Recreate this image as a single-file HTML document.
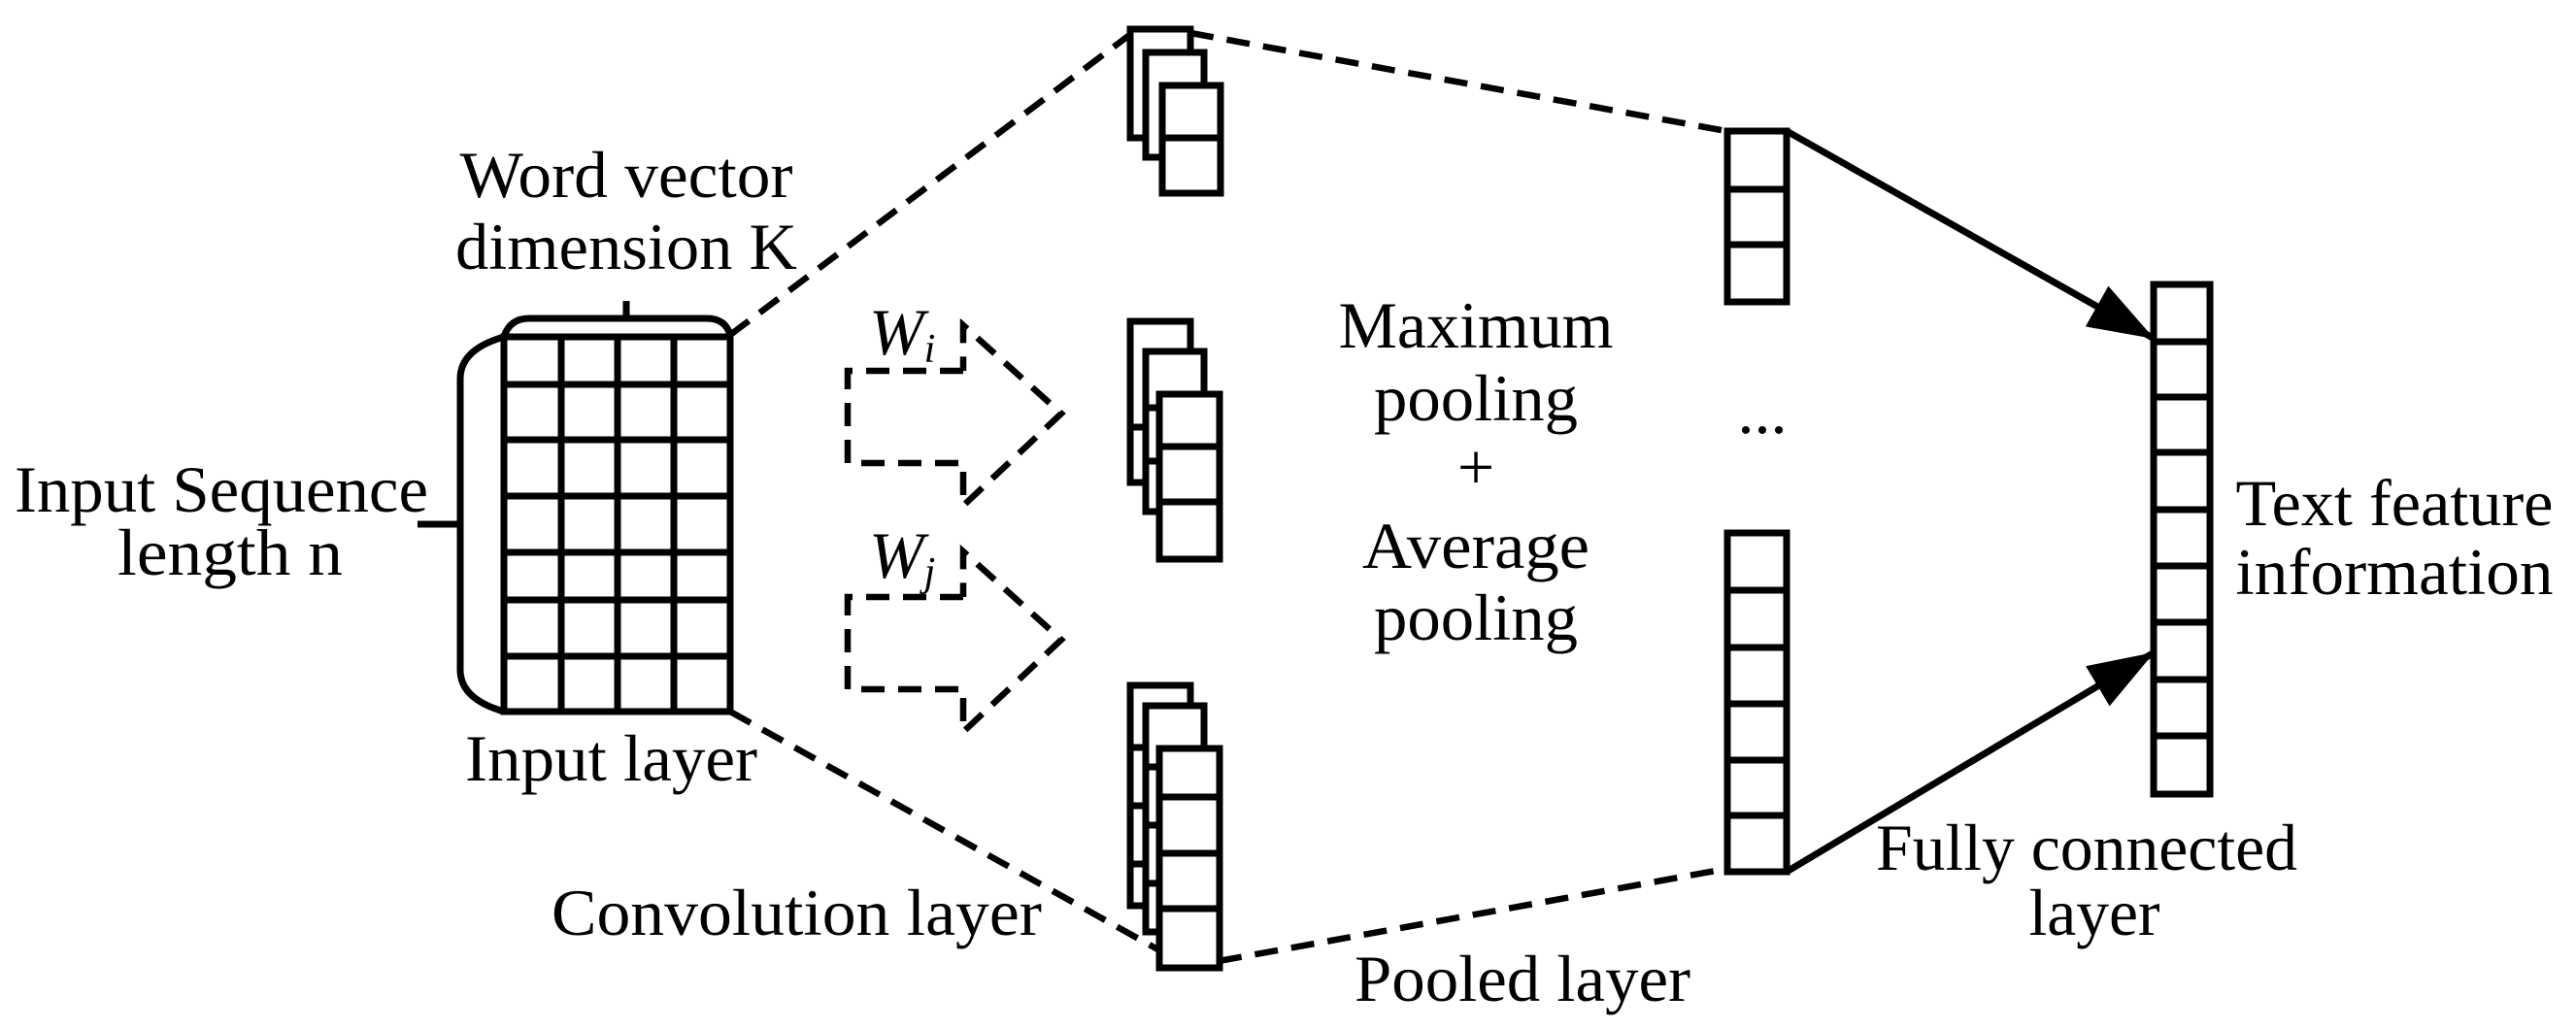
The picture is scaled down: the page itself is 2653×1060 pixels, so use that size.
<!DOCTYPE html>
<html><head><meta charset="utf-8"><style>html,body{margin:0;padding:0;background:#fff}svg{display:block}</style></head>
<body>
<svg width="2653" height="1060" viewBox="0 0 2653 1060" xmlns="http://www.w3.org/2000/svg">
<defs>
<marker id="ah" markerUnits="userSpaceOnUse" markerWidth="74" markerHeight="52" refX="66" refY="24" orient="auto">
<path d="M0,0 L68,24 L0,48 Z" fill="#000"/>
</marker>
</defs>
<g fill="none" stroke="#000" stroke-width="7">
<rect x="519" y="347" width="233" height="386" fill="#fff"/>
<path d="M578,347V733M636,347V733M694,347V733"/>
<path d="M519,396H752M519,453H752M519,511H752M519,569H752M519,618H752M519,676H752"/>
<path d="M519,347 Q525,328 545,328 H728 Q747,328 752,345"/>
<path d="M645,310V328"/>
<path d="M519,347 Q474,360 474,390 V690 Q474,720 519,733"/>
<path d="M430,540H474"/>
</g>
<g fill="none" stroke="#000" stroke-width="6.5" stroke-dasharray="24 14">
<path d="M752,345 L1162,37"/>
<path d="M1226,34 L1778,135"/>
<path d="M752,733 L1196,980"/>
<path d="M1255,990 L1778,895"/>
<path d="M992,382 H873 V477 H992 V521 L1093,426 L992,335 V382"/>
<path d="M992,615 H873 V710 H992 V754 L1093,659 L992,568 V615"/>
</g>
<g fill="#fff" stroke="#000" stroke-width="7">
<rect x="1164" y="30" width="62" height="112"/>
<rect x="1180" y="54" width="60" height="108"/>
<rect x="1197" y="88" width="60" height="111"/>
<path d="M1197,142H1257" fill="none"/>
<rect x="1164" y="331" width="62" height="166"/>
<path d="M1164,440H1226" fill="none"/>
<rect x="1180" y="362" width="60" height="165"/>
<path d="M1180,420H1240M1180,475H1240" fill="none"/>
<rect x="1194" y="406" width="62" height="170"/>
<path d="M1194,460H1256M1194,517H1256" fill="none"/>
<rect x="1164" y="706" width="62" height="227"/>
<path d="M1164,770H1226M1164,830H1226M1164,890H1226" fill="none"/>
<rect x="1180" y="727" width="60" height="233"/>
<path d="M1180,790H1240M1180,850H1240M1180,910H1240" fill="none"/>
<rect x="1194" y="771" width="62" height="226"/>
<path d="M1194,821H1256M1194,879H1256M1194,936H1256" fill="none"/>
<rect x="1779" y="135" width="61" height="176"/>
<path d="M1779,195H1840M1779,252H1840" fill="none"/>
<rect x="1779" y="549" width="61" height="349"/>
<path d="M1779,608H1840M1779,667H1840M1779,725H1840M1779,783H1840M1779,840H1840" fill="none"/>
<rect x="2218" y="293" width="58" height="525"/>
<path d="M2218,352H2276M2218,409H2276M2218,466H2276M2218,525H2276M2218,583H2276M2218,641H2276M2218,700H2276M2218,758H2276" fill="none"/>
</g>
<g stroke="#000" stroke-width="7" fill="none">
<path d="M1840,135 L2217,348" marker-end="url(#ah)"/>
<path d="M1840,898 L2217,673" marker-end="url(#ah)"/>
</g>
<g font-family="'Liberation Serif', serif" font-size="68" fill="#000">
<text x="645" y="203" text-anchor="middle" textLength="343" lengthAdjust="spacingAndGlyphs">Word vector</text>
<text x="645" y="277" text-anchor="middle" textLength="352" lengthAdjust="spacingAndGlyphs">dimension K</text>
<text x="15" y="527" textLength="426" lengthAdjust="spacingAndGlyphs">Input Sequence</text>
<text x="237" y="592" text-anchor="middle" textLength="232" lengthAdjust="spacingAndGlyphs">length n</text>
<text x="479" y="804" textLength="301" lengthAdjust="spacingAndGlyphs">Input layer</text>
<text x="568" y="963" textLength="505" lengthAdjust="spacingAndGlyphs">Convolution layer</text>
<text x="895" y="365" font-style="italic">W<tspan font-size="42" dy="8">i</tspan></text>
<text x="895" y="595" font-style="italic">W<tspan font-size="42" dy="8">j</tspan></text>
<text x="1520" y="358" text-anchor="middle" textLength="283" lengthAdjust="spacingAndGlyphs">Maximum</text>
<text x="1520" y="433" text-anchor="middle" textLength="210" lengthAdjust="spacingAndGlyphs">pooling</text>
<text x="1520" y="504" text-anchor="middle">+</text>
<text x="1520" y="585" text-anchor="middle" textLength="234" lengthAdjust="spacingAndGlyphs">Average</text>
<text x="1520" y="659" text-anchor="middle" textLength="210" lengthAdjust="spacingAndGlyphs">pooling</text>
<text x="1815" y="446" text-anchor="middle">...</text>
<text x="2466" y="541" text-anchor="middle" textLength="327" lengthAdjust="spacingAndGlyphs">Text feature</text>
<text x="2466" y="612" text-anchor="middle" textLength="327" lengthAdjust="spacingAndGlyphs">information</text>
<text x="2149" y="896" text-anchor="middle" textLength="434" lengthAdjust="spacingAndGlyphs">Fully connected</text>
<text x="2157" y="963" text-anchor="middle" textLength="135" lengthAdjust="spacingAndGlyphs">layer</text>
<text x="1395" y="1031" textLength="346" lengthAdjust="spacingAndGlyphs">Pooled layer</text>
</g>
</svg>
</body></html>
